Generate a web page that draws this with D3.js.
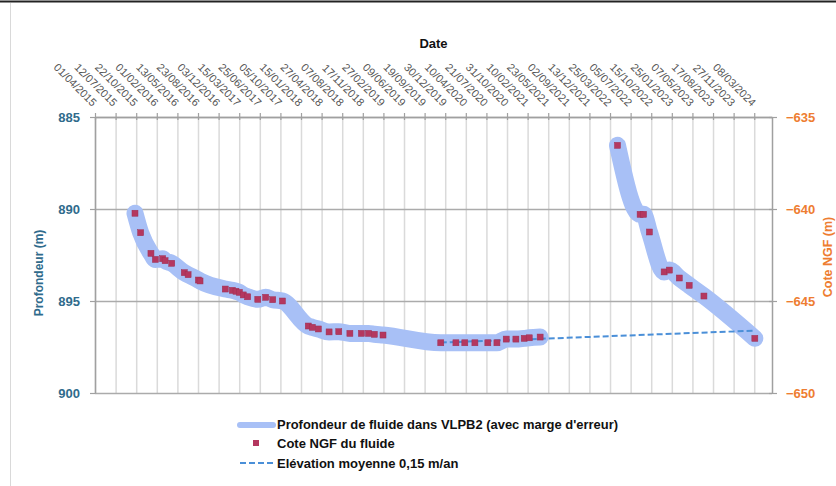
<!DOCTYPE html>
<html>
<head>
<meta charset="utf-8">
<script src="https://cdn.jsdelivr.net/npm/d3@7"></script>
<style>
  body { margin: 0; background: #fff; }
  text { font-family: "Liberation Sans", Arial, sans-serif; }
</style>
</head>
<body>
<div id="chart"></div>
<script>
// Dimensions
var w = 836;
var h = 486;
var plot = { left: 95, right: 772, top: 117, bottom: 393 };

// Tick labels of the date axis (every 102 days)
var tickLabels = ["01/04/2015", "12/07/2015", "22/10/2015", "01/02/2016", "13/05/2016",
  "23/08/2016", "03/12/2016", "15/03/2017", "25/06/2017", "05/10/2017", "15/01/2018",
  "27/04/2018", "07/08/2018", "17/11/2018", "27/02/2019", "09/06/2019", "19/09/2019",
  "30/12/2019", "10/04/2020", "21/07/2020", "31/10/2020", "10/02/2021", "23/05/2021",
  "02/09/2021", "13/12/2021", "25/03/2022", "05/07/2022", "15/10/2022", "25/01/2023",
  "07/05/2023", "17/08/2023", "27/11/2023", "08/03/2024"];
var dateMin = "2015-04-01";
var dateMax = "2024-06-04";

var leftTicks = [885, 890, 895, 900];
var rightTicks = [-635, -640, -645, -650];

// Measurement dates
var dates = ["2015-10-16", "2015-11-13", "2016-01-03", "2016-01-25", "2016-03-01",
  "2016-03-13", "2016-04-15", "2016-06-16", "2016-07-05", "2016-08-25", "2016-09-02",
  "2017-01-05", "2017-02-09", "2017-02-27", "2017-03-16", "2017-04-04", "2017-04-26",
  "2017-06-15", "2017-07-24", "2017-08-28", "2017-10-15", "2018-02-20", "2018-03-12",
  "2018-04-11", "2018-06-03", "2018-07-21", "2018-09-14", "2018-11-10", "2018-12-15",
  "2019-01-13", "2019-02-25", "2019-12-08", "2020-02-21", "2020-04-05", "2020-05-25",
  "2020-07-28", "2020-09-11", "2020-10-27", "2020-12-14", "2021-01-24", "2021-02-18",
  "2021-04-13",
  "2022-05-01", "2022-08-21", "2022-09-07", "2022-10-06", "2022-12-18", "2023-01-13",
  "2023-03-03", "2023-04-21", "2023-07-03", "2024-03-11"];

// Profondeur (m), left axis
var profondeur = [890.23, 891.29, 892.41, 892.74, 892.70, 892.81, 892.95, 893.46, 893.57,
  893.86, 893.91, 894.35, 894.42, 894.47, 894.53, 894.67, 894.77, 894.91, 894.80, 894.93,
  895.00, 896.36, 896.43, 896.52, 896.68, 896.67, 896.76, 896.76, 896.76, 896.81, 896.85,
  897.27, 897.27, 897.27, 897.27, 897.27, 897.27, 897.07, 897.07, 897.03, 897.00, 896.96,
  886.54, 890.29, 890.29, 891.25, 893.42, 893.32, 893.75, 894.15, 894.73, 897.03];

// Cote NGF (m), right axis
var coteNGF = [-640.23, -641.29, -642.41, -642.74, -642.70, -642.81, -642.95, -643.46, -643.57,
  -643.86, -643.91, -644.35, -644.42, -644.47, -644.53, -644.67, -644.77, -644.91, -644.80, -644.93,
  -645.00, -646.36, -646.43, -646.52, -646.68, -646.67, -646.76, -646.76, -646.76, -646.81, -646.85,
  -647.27, -647.27, -647.27, -647.27, -647.27, -647.27, -647.07, -647.07, -647.03, -647.00, -646.96,
  -636.54, -640.29, -640.29, -641.25, -643.42, -643.32, -643.75, -644.15, -644.73, -647.03];

// first index of the 2022 campaign (the thick line is broken there)
var breakIndex = 42;

// Elevation trend 0,15 m/an
var trendDates = ["2019-12-08", "2024-03-11"];
var trendDepth = [897.26, 896.61];

var legendLabels = ["Profondeur de fluide dans VLPB2 (avec marge d'erreur)",
  "Cote NGF du fluide", "Elévation moyenne 0,15 m/an"];

var parseISO = d3.utcParse("%Y-%m-%d");
var parseFR = d3.utcParse("%d/%m/%Y");

var bandColor = "#a8c0f6";
var squareColor = "#b4375f";
var trendColor = "#4a8fd8";
var leftColor = "#2f6b8c";
var rightColor = "#ee7d31";

var x = d3.scaleUtc()
  .domain([parseISO(dateMin), parseISO(dateMax)])
  .range([plot.left, plot.right]);
var yLeft = d3.scaleLinear().domain([885, 900]).range([plot.top, plot.bottom]);
var yRight = d3.scaleLinear().domain([-635, -650]).range([plot.top, plot.bottom]);

var svg = d3.select("#chart").append("svg")
  .attr("width", w)
  .attr("height", h);

// frame
svg.append("line").attr("x1", 0).attr("x2", w).attr("y1", 1.5).attr("y2", 1.5)
  .style("stroke", "#222").style("stroke-width", 2);
svg.append("line").attr("x1", 10.5).attr("x2", 10.5).attr("y1", 3).attr("y2", h)
  .style("stroke", "#d9d9d9").style("stroke-width", 1);

var tickDates = tickLabels.map(parseFR);

// vertical gridlines
svg.append("g")
  .attr("transform", "translate(0," + plot.bottom + ")")
  .call(d3.axisBottom(x).tickValues(tickDates).tickSize(-(plot.bottom - plot.top)).tickFormat(""))
  .call(function(g) {
    g.select(".domain").remove();
    g.selectAll("line").style("stroke", "#dadada").style("stroke-width", 1.5);
  });

// horizontal gridlines
svg.append("g")
  .attr("transform", "translate(" + plot.left + ",0)")
  .call(d3.axisLeft(yLeft).tickValues(leftTicks).tickSize(-(plot.right - plot.left)).tickFormat(""))
  .call(function(g) {
    g.select(".domain").remove();
    g.selectAll("line").style("stroke", "#ababab").style("stroke-width", 1.5);
  });

// date axis on top (at 885)
var xAxis = svg.append("g")
  .attr("transform", "translate(0," + plot.top + ")")
  .call(d3.axisTop(x).tickValues(tickDates).tickSize(4).tickSizeOuter(0).tickFormat(""));
xAxis.select(".domain").style("stroke", "#a0a0a0").style("stroke-width", 1.5);
xAxis.selectAll(".tick line").attr("y2", -4).attr("y1", 3).style("stroke", "#a0a0a0").style("stroke-width", 1.2);

svg.append("g").selectAll("text")
  .data(tickLabels)
  .enter()
  .append("text")
  .attr("transform", function(d) {
    return "translate(" + (x(parseFR(d)) - 3) + "," + (plot.top - 10) + ") rotate(45)";
  })
  .attr("text-anchor", "end")
  .style("font-size", "11px")
  .style("fill", "#555")
  .text(function(d) { return d; });

svg.append("text")
  .attr("x", (plot.left + plot.right) / 2)
  .attr("y", 48)
  .attr("text-anchor", "middle")
  .style("font-size", "13px")
  .style("font-weight", "bold")
  .style("fill", "#111")
  .text("Date");

// left axis
var leftAxis = svg.append("g")
  .attr("transform", "translate(" + plot.left + ",0)")
  .call(d3.axisLeft(yLeft).tickValues(leftTicks).tickSize(5).tickSizeOuter(0).tickPadding(10));
leftAxis.select(".domain").style("stroke", "#a0a0a0").style("stroke-width", 1.5);
leftAxis.selectAll(".tick line").style("stroke", "#a0a0a0").style("stroke-width", 1.2);
leftAxis.selectAll("text")
  .style("font-size", "13px").style("font-weight", "bold")
  .style("font-family", "'Liberation Sans', Arial, sans-serif")
  .style("fill", leftColor);

svg.append("text")
  .attr("transform", "translate(43,273) rotate(-90)")
  .attr("text-anchor", "middle")
  .style("font-size", "12px")
  .style("font-weight", "bold")
  .style("fill", leftColor)
  .text("Profondeur (m)");

// right axis
var rightAxis = svg.append("g")
  .attr("transform", "translate(" + plot.right + ",0)")
  .call(d3.axisRight(yRight).tickValues(rightTicks).tickSize(5).tickSizeOuter(0).tickPadding(9));
rightAxis.select(".domain").style("stroke", "#a0a0a0").style("stroke-width", 1.5);
rightAxis.selectAll(".tick line").attr("x1", -3).style("stroke", "#a0a0a0").style("stroke-width", 1.2);
rightAxis.selectAll("text")
  .style("font-size", "13px").style("font-weight", "bold")
  .style("font-family", "'Liberation Sans', Arial, sans-serif")
  .style("fill", rightColor);

svg.append("text")
  .attr("transform", "translate(832,257) rotate(-90)")
  .attr("text-anchor", "middle")
  .style("font-size", "12.5px")
  .style("font-weight", "bold")
  .style("fill", rightColor)
  .text("Cote NGF (m)");

// data
var points = dates.map(function(d, i) {
  return { date: parseISO(d), depth: profondeur[i], cote: coteNGF[i] };
});

var band = d3.line()
  .x(function(d) { return x(d.date); })
  .y(function(d) { return yLeft(d.depth); })
  .curve(d3.curveMonotoneX);

[points.slice(0, breakIndex), points.slice(breakIndex)].forEach(function(seg) {
  svg.append("path")
    .datum(seg)
    .attr("d", band)
    .style("fill", "none")
    .style("stroke", bandColor)
    .style("stroke-width", 17)
    .style("stroke-linecap", "round")
    .style("stroke-linejoin", "round");
});

var trend = trendDates.map(function(d, i) {
  return { date: parseISO(d), depth: trendDepth[i] };
});
svg.append("path")
  .datum(trend)
  .attr("d", d3.line()
    .x(function(d) { return x(d.date); })
    .y(function(d) { return yLeft(d.depth); }))
  .style("fill", "none")
  .style("stroke", trendColor)
  .style("stroke-width", 2)
  .style("stroke-dasharray", "6,3");

svg.append("g").selectAll("rect")
  .data(points)
  .enter()
  .append("rect")
  .attr("x", function(d) { return x(d.date) - 3; })
  .attr("y", function(d) { return yRight(d.cote) - 3; })
  .attr("width", 6)
  .attr("height", 6)
  .style("fill", squareColor)
  .style("stroke", "#9e2f52")
  .style("stroke-width", 0.5);

// legend
var legend = svg.append("g");
legend.append("line")
  .attr("x1", 240).attr("x2", 273).attr("y1", 425).attr("y2", 425)
  .style("stroke", bandColor).style("stroke-width", 6).style("stroke-linecap", "round");
legend.append("rect")
  .attr("x", 253).attr("y", 440).attr("width", 6).attr("height", 6)
  .style("fill", squareColor);
legend.append("line")
  .attr("x1", 240).attr("x2", 274).attr("y1", 463).attr("y2", 463)
  .style("stroke", trendColor).style("stroke-width", 2).style("stroke-dasharray", "6,3");

var legendWidths = [341, 118, 186];
legend.selectAll("text")
  .data(legendLabels)
  .enter()
  .append("text")
  .attr("x", 277)
  .attr("y", function(d, i) { return [429, 448, 468][i]; })
  .style("font-size", "13px")
  .style("font-weight", "bold")
  .style("fill", "#111")
  .text(function(d) { return d; })
  .each(function(d, i) {
    if (this.getComputedTextLength() > legendWidths[i]) {
      d3.select(this).attr("textLength", legendWidths[i]).attr("lengthAdjust", "spacingAndGlyphs");
    }
  });
</script>
</body>
</html>
